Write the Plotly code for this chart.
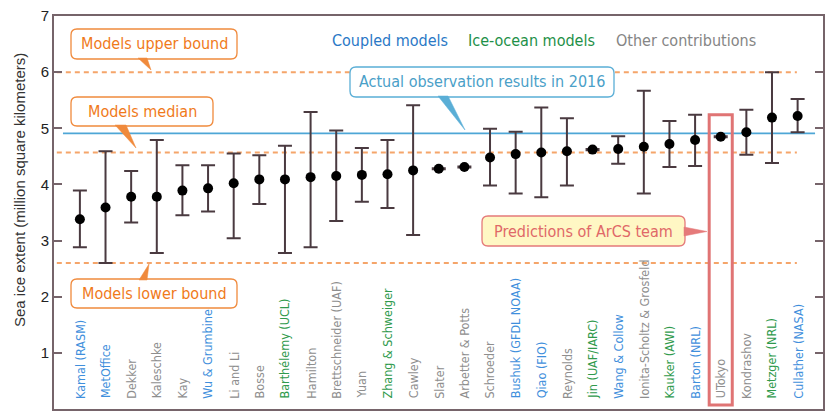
import plotly.graph_objects as go

# ---------------- data ----------------
categories = ["Kamal (RASM)", "MetOffice", "Dekker", "Kaleschke", "Kay", "Wu & Grumbine",
              "Li and Li", "Bosse", "Barthélemy (UCL)", "Hamilton", "Brettschneider (UAF)",
              "Yuan", "Zhang & Schweiger", "Cawley", "Slater", "Arbetter & Potts",
              "Schroeder", "Bushuk (GFDL NOAA)", "Qiao (FIO)", "Reynolds", "Jin (UAF/IARC)",
              "Wang & Collow", "Ionita-Scholtz & Grosfeld", "Kauker (AWI)", "Barton (NRL)",
              "UTokyo", "Kondrashov", "Metzger (NRL)", "Cullather (NASA)"]
groups = ["coupled", "coupled", "other", "other", "other", "coupled", "other", "other",
          "ice-ocean", "other", "other", "other", "ice-ocean", "other", "other", "other",
          "other", "coupled", "coupled", "other", "ice-ocean", "coupled", "other",
          "ice-ocean", "coupled", "other", "other", "ice-ocean", "coupled"]
predicted = [3.38, 3.59, 3.78, 3.78, 3.89, 3.93, 4.02, 4.09, 4.09, 4.13, 4.15, 4.17, 4.18,
             4.25, 4.28, 4.31, 4.48, 4.54, 4.57, 4.59, 4.62, 4.63, 4.67, 4.72, 4.79, 4.85,
             4.93, 5.19, 5.22]
upper = [3.89, 4.59, 4.24, 4.79, 4.34, 4.34, 4.55, 4.52, 4.69, 5.29, 4.96, 4.65, 4.79,
         5.41, 4.29, 4.32, 4.99, 4.94, 5.37, 5.18, 4.63, 4.86, 5.67, 5.13, 5.24, 4.86,
         5.33, 6.00, 5.52]
lower = [2.88, 2.60, 3.32, 2.78, 3.45, 3.52, 3.04, 3.65, 2.78, 2.88, 3.35, 3.69, 3.58,
         3.10, 4.27, 4.30, 3.98, 3.84, 3.77, 3.98, 4.61, 4.37, 3.84, 4.31, 4.33, 4.84,
         4.53, 4.38, 4.93]
models_upper_bound = 6.0
models_median = 4.57
models_lower_bound = 2.6
observed_2016 = 4.91
y_ticks = [0, 1, 2, 3, 4, 5, 6, 7]

group_colors = {"coupled": "#3f8fdc", "ice-ocean": "#2f9a4c", "other": "#8e8e8e"}

# ---------------- geometry helpers (pixel -> paper) ----------------
W, H = 827, 412
ML, MR, MT, MB = 54, 4, 16, 3
PW, PH = W - ML - MR, H - MT - MB


def px(x):
    return (x - ML) / PW


def py(y):
    return (H - MB - y) / PH


def rrect(x0, y0, x1, y1, r=6):
    pts = []
    pts.append(f"M{px(x0 + r)},{py(y0)}")
    pts.append(f"L{px(x1 - r)},{py(y0)}")
    pts.append(f"Q{px(x1)},{py(y0)} {px(x1)},{py(y0 + r)}")
    pts.append(f"L{px(x1)},{py(y1 - r)}")
    pts.append(f"Q{px(x1)},{py(y1)} {px(x1 - r)},{py(y1)}")
    pts.append(f"L{px(x0 + r)},{py(y1)}")
    pts.append(f"Q{px(x0)},{py(y1)} {px(x0)},{py(y1 - r)}")
    pts.append(f"L{px(x0)},{py(y0 + r)}")
    pts.append(f"Q{px(x0)},{py(y0)} {px(x0 + r)},{py(y0)}")
    pts.append("Z")
    return " ".join(pts)


def tri(a, b, c):
    return f"M{px(a[0])},{py(a[1])} L{px(b[0])},{py(b[1])} L{px(c[0])},{py(c[1])} Z"


xi = list(range(len(categories)))
err_plus = [u - p for u, p in zip(upper, predicted)]
err_minus = [p - l for p, l in zip(predicted, lower)]

fig = go.Figure()

dash_col = "#f5a56a"
for val in [models_upper_bound, models_median, models_lower_bound]:
    fig.add_trace(go.Scatter(x=[-0.9, 27.97], y=[val, val], mode="lines",
                             line=dict(color=dash_col, width=2, dash="5px,4px"),
                             hoverinfo="skip", showlegend=False))
fig.add_trace(go.Scatter(x=[-0.66, 28.68], y=[observed_2016, observed_2016], mode="lines",
                         line=dict(color="#4ea6d6", width=1.6),
                         hoverinfo="skip", showlegend=False))

fig.add_trace(go.Scatter(
    x=xi, y=predicted, mode="markers",
    marker=dict(color="black", size=10),
    error_y=dict(type="data", symmetric=False, array=err_plus, arrayminus=err_minus,
                 color="#4a3a40", thickness=2, width=7),
    showlegend=False, text=categories, hovertemplate="%{text}: %{y}<extra></extra>"))

narrow = "Liberation Sans Narrow, DejaVu Sans Condensed, Roboto, sans-serif"
ann = []
for i, (c, g) in enumerate(zip(categories, groups)):
    ann.append(dict(x=i, y=0.15, xref="x", yref="y", text=c, textangle=-90,
                    xanchor="center", yanchor="bottom", showarrow=False,
                    font=dict(family=narrow, size=12.5, color=group_colors[g])))

# header
for txt, cx, col in [("Coupled models", 390, "#2a78c6"), ("Ice-ocean models", 531, "#1e9048"),
                     ("Other contributions", 686, "#858585")]:
    ann.append(dict(x=px(cx), y=py(41), xref="paper", yref="paper", text=txt,
                    showarrow=False, xanchor="center", yanchor="middle",
                    font=dict(family=narrow, size=16, color=col)))

shapes = []
orange_b = "#f08a3c"
orange_t = "#f07a1a"
callouts = [
    ("Models upper bound", (71, 29, 237, 59), orange_b, "white", orange_t,
     ((138, 58), (147, 58), (151, 70))),
    ("Models median", (71, 97, 213, 126), orange_b, "white", orange_t,
     ((115, 125), (126, 125), (136, 148))),
    ("Models lower bound", (71, 279, 237, 308), orange_b, "white", orange_t,
     ((139, 280), (147, 280), (149, 264))),
    ("Actual observation results in 2016", (350, 67, 614, 97), "#5aaed6", "white", "#4aa0c8",
     ((438, 96), (448, 96), (465, 130))),
    ("Predictions of ArCS team", (482, 216, 685, 246), "#e57a7a", "#fff7c4", "#e06868",
     ((684, 227), (684, 236), (707, 231.5))),
]
for txt, (x0, y0, x1, y1), bc, fc, tc, t in callouts:
    shapes.append(dict(type="path", xref="paper", yref="paper", path=rrect(x0, y0, x1, y1),
                       line=dict(color=bc, width=1.3), fillcolor=fc, layer="above"))
    shapes.append(dict(type="path", xref="paper", yref="paper", path=tri(*t),
                       line=dict(color=bc, width=0.5), fillcolor=bc, layer="above"))
    ann.append(dict(x=px((x0 + x1) / 2), y=py((y0 + y1) / 2), xref="paper", yref="paper",
                    text=txt, showarrow=False, xanchor="center", yanchor="middle",
                    font=dict(family=narrow, size=16, color=tc)))

# highlight box around ArCS team (UTokyo)
ut = categories.index("UTokyo")
shapes.append(dict(type="rect", xref="x", yref="y", x0=ut - 0.45, x1=ut + 0.45,
                   y0=0.07, y1=5.24, line=dict(color="#e07474", width=3),
                   fillcolor="rgba(0,0,0,0)", layer="above"))

# y title
ann.append(dict(x=px(20), y=py(190), xref="paper", yref="paper",
                text="Sea ice extent (million square kilometers)", textangle=-90,
                showarrow=False, xanchor="center", yanchor="middle",
                font=dict(family="Liberation Sans, Arial, sans-serif", size=15, color="#333333")))

axcol = "#76646a"
fig.update_layout(
    width=W, height=H, margin=dict(l=ML, r=MR, t=MT, b=MB),
    paper_bgcolor="white", plot_bgcolor="white",
    xaxis=dict(range=[-1.01, 28.99], showticklabels=False, ticks="", showgrid=False,
               zeroline=False, showline=True, mirror=True, linecolor=axcol, linewidth=2),
    yaxis=dict(range=[0, 7], tickvals=y_ticks, ticks="inside", ticklen=8, tickwidth=2,
               tickcolor=axcol, showgrid=False, zeroline=False, showline=True,
               mirror="ticks", linecolor=axcol, linewidth=2,
               tickfont=dict(family="Liberation Sans, Arial, sans-serif", size=15,
                             color="#222222")),
    annotations=ann, shapes=shapes, showlegend=False,
)

fig.write_html("out.html", config={"displayModeBar": False},
               post_script="document.body.style.margin='0px';")
